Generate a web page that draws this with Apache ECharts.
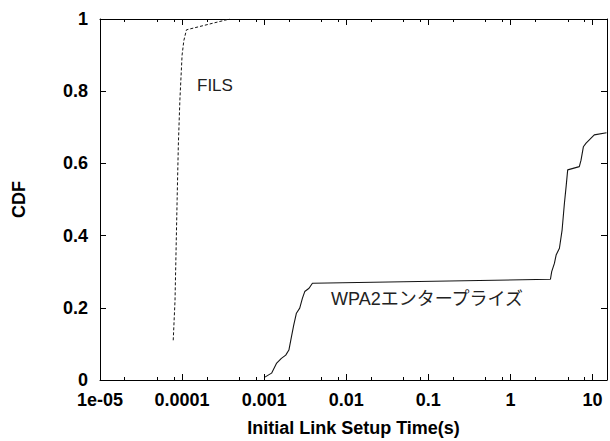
<!DOCTYPE html>
<html>
<head>
<meta charset="utf-8">
<script src="https://cdn.jsdelivr.net/npm/echarts@6/dist/echarts.min.js"></script>
<style>html,body{margin:0;padding:0;background:#fff;}#c{width:610px;height:441px;}</style>
</head>
<body>
<div id="c"></div>
<script>
// ---- data ----
const xTickLabels = ['1e-05', '0.0001', '0.001', '0.01', '0.1', '1', '10'];
const yTickLabels = ['0', '0.2', '0.4', '0.6', '0.8', '1'];
const filsX = [7.8e-5, 8.2e-5, 8.7e-5, 9.0e-5, 9.4e-5, 1.0e-4, 1.05e-4, 1.13e-4, 3.8e-4];
const filsY = [0.11, 0.22, 0.50, 0.65, 0.776, 0.90, 0.94, 0.97, 1.0];
const wpaX = [1.02e-3, 1.23e-3, 1.41e-3, 1.62e-3, 1.83e-3, 2.0e-3, 2.15e-3, 2.29e-3, 2.47e-3, 2.71e-3, 2.92e-3, 3.12e-3, 3.52e-3, 3.87e-3,
  3.07, 3.18, 3.43, 3.6, 3.95, 4.26, 4.54, 4.76, 4.98, 6.9, 7.24, 7.73, 8.34, 10.5, 14.8];
const wpaY = [0.008, 0.019, 0.046, 0.060, 0.069, 0.083, 0.12, 0.152, 0.185, 0.199, 0.226, 0.245, 0.254, 0.268,
  0.279, 0.30, 0.323, 0.346, 0.365, 0.416, 0.489, 0.535, 0.582, 0.591, 0.609, 0.646, 0.656, 0.679, 0.685];
const seriesNames = ['FILS', 'WPA2エンタープライズ'];
const xMin = 1e-5, xMax = 15;
const minorMult = [2, 5, 8];

// ---- build ----
const pairs = (xs, ys) => xs.map((x, i) => [x, ys[i]]);
const minorVals = [];
for (let e = -5; e <= 1; e++) minorMult.forEach(m => {
  const v = Math.log10(m) + e;
  if (v < Math.log10(xMax)) minorVals.push(v);
});
const fmtX = v => {
  const e = Math.round(Math.log10(v));
  if (Math.abs(Math.log10(v) - e) > 1e-6) return '';
  const i = e + 5;
  return (i >= 0 && i < xTickLabels.length) ? xTickLabels[i] : '';
};
const lblFont = () => ({color: '#000', fontSize: 18, fontWeight: 'bold', fontFamily: 'Liberation Sans, Arial, sans-serif'});
const axLine = () => ({show: true, onZero: false, lineStyle: {color: '#000', width: 1}});
const majorTick = () => ({show: true, inside: true, length: 6, lineStyle: {color: '#000', width: 1}});
const minorTickAx = (pos) => ({
  type: 'value', position: pos, min: -5, max: Math.log10(xMax),
  axisLine: {show: false, onZero: false}, axisLabel: {show: false}, splitLine: {show: false},
  axisTick: {show: true, inside: true, length: 3, customValues: minorVals, lineStyle: {color: '#000', width: 1}}
});
const lineColor = '#141414';

const chart = echarts.init(document.getElementById('c'), null, {renderer: 'svg'});
chart.setOption({
  animation: false,
  backgroundColor: '#fff',
  grid: {left: 100, right: 3, top: 19, bottom: 61, outerBoundsMode: 'none'},
  xAxis: [
    {type: 'log', min: xMin, max: xMax, position: 'bottom',
      name: 'Initial Link Setup Time(s)', nameLocation: 'middle', nameGap: 39,
      nameTextStyle: lblFont(),
      axisLine: axLine(), axisTick: majorTick(), splitLine: {show: false},
      axisLabel: Object.assign({formatter: fmtX, margin: 11}, lblFont())},
    {type: 'log', min: xMin, max: xMax, position: 'top',
      axisLine: axLine(), axisTick: majorTick(), splitLine: {show: false}, axisLabel: {show: false}},
    minorTickAx('bottom'),
    minorTickAx('top')
  ],
  yAxis: [
    {type: 'value', min: 0, max: 1, interval: 0.2, position: 'left',
      name: 'CDF', nameLocation: 'middle', nameGap: 72, nameRotate: 90, nameTextStyle: lblFont(),
      axisLine: axLine(), axisTick: majorTick(), splitLine: {show: false},
      axisLabel: Object.assign({margin: 12, formatter: (v) => yTickLabels[Math.round(v * 5)]}, lblFont())},
    {type: 'value', min: 0, max: 1, interval: 0.2, position: 'right',
      axisLine: axLine(), axisTick: majorTick(), splitLine: {show: false}, axisLabel: {show: false}}
  ],
  series: [
    {name: seriesNames[0], type: 'line', xAxisIndex: 0, yAxisIndex: 0, data: pairs(filsX, filsY),
      symbol: 'none', lineStyle: {color: lineColor, width: 1, type: [3, 2]}},
    {name: seriesNames[1], type: 'line', xAxisIndex: 0, yAxisIndex: 0, data: pairs(wpaX, wpaY),
      symbol: 'none', lineStyle: {color: lineColor, width: 1.1}}
  ],
  graphic: [
    {type: 'text', left: 197, top: 77, style: {text: seriesNames[0], fill: '#222', font: '17px "Liberation Sans", Arial, sans-serif'}},
    {type: 'text', left: 331, top: 290, style: {text: seriesNames[1], fill: '#222', font: '18px "Liberation Sans", "Noto Sans CJK JP", sans-serif'}}
  ]
});
</script>
</body>
</html>
